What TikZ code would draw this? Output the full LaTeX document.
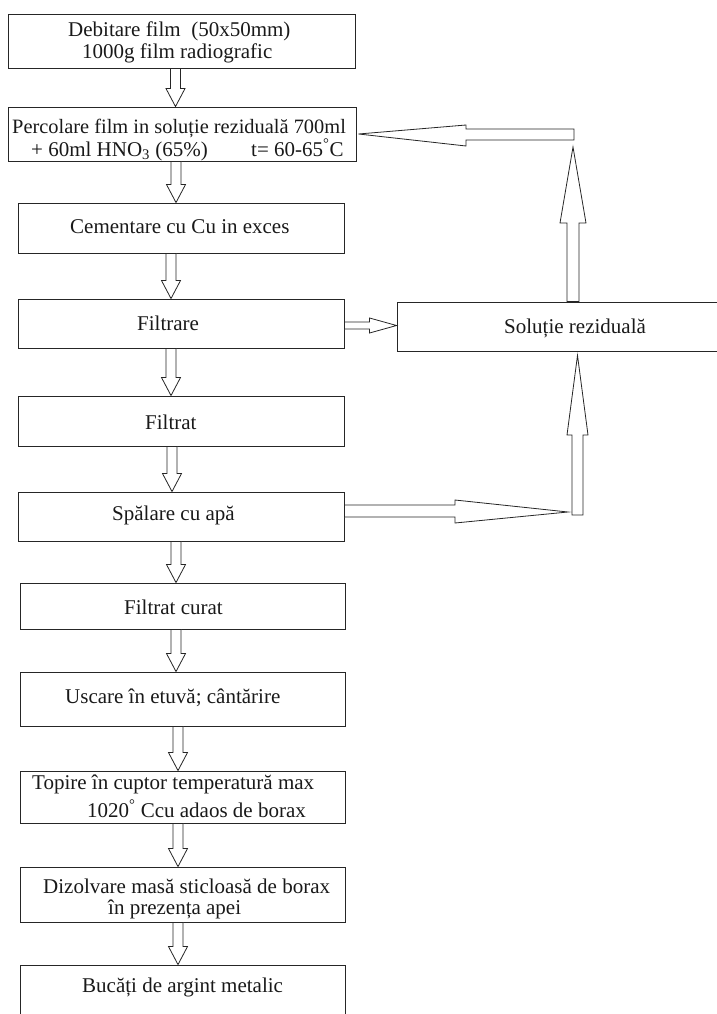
\documentclass[tikz,border=0pt]{standalone}
\usepackage{fontspec}
\setmainfont{Liberation Serif}
\usetikzlibrary{calc}
\tikzset{
  box/.style={draw=black!85, line width=0.9pt, rectangle, inner sep=0pt},
  lbl/.style={anchor=base west, inner sep=0pt, font=\fontsize{21}{23}\selectfont, text=black!90},
  blk/.style={draw=black!85, line width=0.8pt, fill=white, line join=miter},
}
\newcommand\mkbox[5]{\node[box, minimum width={(#4)-(#2)}, minimum height={(#5)-(#3)}] (#1) at ({((#2)+(#4))/2},{((#3)+(#5))/2}) {};}
\newcommand\dnarrow[3]{%
  \draw[blk] let \p1=(#1.south), \p2=(#2.north) in
   ({#3-5},\y1) -- ({#3-5},\y2+18pt) -- ({#3-9.5},\y2+18pt) -- (#3,\y2)
   -- ({#3+9.5},\y2+18pt) -- ({#3+5},\y2+18pt) -- ({#3+5},\y1) -- cycle;}
\begin{document}
\begin{tikzpicture}[x=1pt,y=-1pt]
\useasboundingbox (0,0) rectangle (717,1014);
\clip (0,0) rectangle (717,1014);
% boxes
\mkbox{b1}{8}{14}{355}{68}
\mkbox{b2}{8}{107}{356}{161}
\mkbox{b3}{18}{203}{344}{253}
\mkbox{b4}{18}{299}{344}{348}
\mkbox{b5}{18}{396}{344}{446}
\mkbox{b6}{18}{492}{344}{541}
\mkbox{b7}{20}{583}{345}{629}
\mkbox{b8}{20}{672}{345}{726}
\mkbox{b9}{20}{771}{345}{823}
\mkbox{b10}{20}{867}{345}{922}
\mkbox{b11}{20}{965}{345}{1040}
\mkbox{sol}{397}{302}{740}{351}
% texts
\node[lbl] (t1a) at (68,37) {Debitare film\ \ (50x50mm)};
\node[lbl] (t1b) at (82,59) {1000g film radiografic};
\node[lbl, font=\fontsize{20.4}{23}\selectfont] (t2a) at (12,133) {Percolare film in soluție reziduală 700ml};
\node[lbl] (t2b) at (31,156) {+ 60ml HNO\textsubscript{3} (65\%)};
\node[lbl] (t2c) at (251,156) {t= 60-65\textsuperscript{°}C};
\node[lbl] (t3) at (70,233) {Cementare cu Cu in exces};
\node[lbl] (t4) at (137,330) {Filtrare};
\node[lbl] (t5) at (145,429) {Filtrat};
\node[lbl] (t6) at (112,520) {Spălare cu apă};
\node[lbl] (t7) at (124,614) {Filtrat curat};
\node[lbl] (t8) at (65,703) {Uscare în etuvă; cântărire};
\node[lbl] (t9a) at (32,789) {Topire în cuptor temperatură max};
\node[lbl] (t9b) at (87,817) {1020\textsuperscript{°} Ccu adaos de borax};
\node[lbl] (t10a) at (43,893) {Dizolvare masă sticloasă de borax};
\node[lbl] (t10b) at (108,914) {în prezența apei};
\node[lbl] (t11) at (82,992) {Bucăți de argint metalic};
\node[lbl] (tsol) at (504,333) {Soluție reziduală};
% down arrows
\dnarrow{b1}{b2}{175.5}
\dnarrow{b2}{b3}{176}
\dnarrow{b3}{b4}{171}
\dnarrow{b4}{b5}{171}
\dnarrow{b5}{b6}{172}
\dnarrow{b6}{b7}{176}
\dnarrow{b7}{b8}{176}
\dnarrow{b8}{b9}{178}
\dnarrow{b9}{b10}{178}
\dnarrow{b10}{b11}{178}
% coordinates for free ends
\coordinate (c1) at (573,147);
\coordinate (c2) at (568,512);
\coordinate (c3) at (577.5,515);
\coordinate (c4) at (574,134.5);
% Filtrare -> Solutie
\draw[blk] let \p1=(b4.east), \p2=(sol.west) in
  (\x1,322) -- (\x2-27pt,322) -- (\x2-27pt,318) -- (\x2,325.5) -- (\x2-27pt,333) -- (\x2-27pt,329) -- (\x1,329) -- cycle;
% Spalare -> right
\draw[blk] let \p1=(b6.east), \p2=(c2) in
  (\x1,505) -- (455,505) -- (455,500) -- (\x2,\y2) -- (455,523) -- (455,517) -- (\x1,517) -- cycle;
% lower vertical up into Solutie
\draw[blk] let \p1=(c3), \p2=(sol.south) in
  (572,\y1) -- (572,435) -- (567,435) -- (577.5,\y2-4pt) -- (588,435) -- (583,435) -- (583,\y1) -- cycle;
% upper vertical from Solutie up
\draw[blk] let \p1=(sol.north), \p2=(c1) in
  (567,\y1) -- (567,223) -- (560,223) -- (573,\y2) -- (586,223) -- (579,223) -- (579,\y1) -- cycle;
% horizontal back to Percolare
\draw[blk] let \p1=(c4), \p2=(b2.east) in
  (\x1,129) -- (466,129) -- (466,125) -- (\x2+2pt,\y2) -- (466,146) -- (466,140) -- (\x1,140) -- cycle;
\end{tikzpicture}
\end{document}
